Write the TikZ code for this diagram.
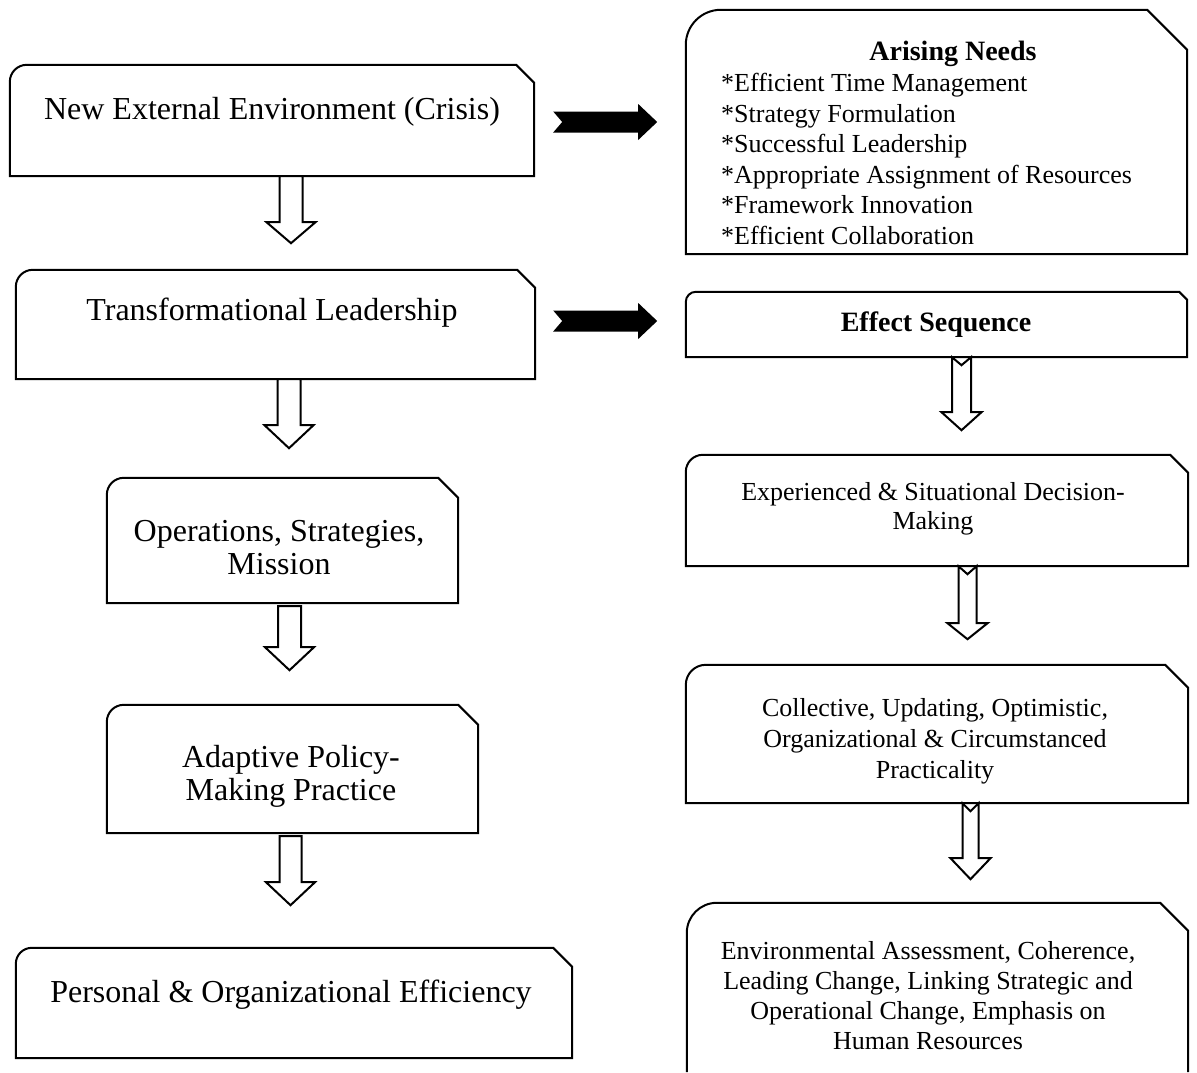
\documentclass[tikz,border=0pt]{standalone}
\usepackage{fontspec}
\setmainfont{Liberation Serif}
\newcommand\boxoutline[3]{%
  \draw[boxline] (#1.south west) -- ([yshift=-#2pt]#1.north west)
    .. controls ([yshift=-0.448*#2pt]#1.north west) and ([xshift=0.448*#2pt]#1.north west) .. ([xshift=#2pt]#1.north west)
    -- ([xshift=-#3pt]#1.north east) -- ([yshift=-#3pt]#1.north east) -- (#1.south east) -- cycle;}
\newcommand\openoutline[3]{%
  \draw[boxline] (#1.south west) -- ([yshift=-#2pt]#1.north west)
    .. controls ([yshift=-0.448*#2pt]#1.north west) and ([xshift=0.448*#2pt]#1.north west) .. ([xshift=#2pt]#1.north west)
    -- ([xshift=-#3pt]#1.north east) -- ([yshift=-#3pt]#1.north east) -- (#1.south east);}
% #1 start, #2 shaft length, #3 head length, #4 shaft half width, #5 head half width
\newcommand\hollowdown[5]{%
  \draw[arrline] (#1) ++(-#4,0) -- ++(0,#2) -- ++(#4-#5,0) -- ++(#5,#3) -- ++(#5,-#3)
    -- ++(#4-#5,0) -- ++(0,-#2) -- cycle;}
% #1 start, #2 shaft length, #3 head length, #4 shaft half, #5 head half, #6 notch
\newcommand\notchdown[6]{%
  \draw[arrline] (#1) ++(-#4,0) -- ++(0,#2) -- ++(#4-#5,0) -- ++(#5,#3) -- ++(#5,-#3)
    -- ++(#4-#5,0) -- ++(0,-#2) -- ++(-#4,#6) -- cycle;}
% #1 tail centre, #2 shaft length, #3 head length, #4 shaft half, #5 head half, #6 notch
\newcommand\blackright[6]{%
  \fill[black] (#1) ++(0,-#4) -- ++(#2,0) -- ++(0,#4-#5) -- ++(#3,#5) -- ++(-#3,#5)
    -- ++(0,#4-#5) -- ++(-#2,0) -- ++(#6,-#4) -- cycle;}
\begin{document}
\begin{tikzpicture}[x=1pt,y=-1pt,
  area/.style={draw=none,inner sep=0pt},
  boxline/.style={draw=black,line width=2pt,line join=miter,fill=white},
  arrline/.style={draw=black,line width=2pt,line join=miter,fill=white},
  lt/.style={inner sep=0pt,align=center,font=\fontsize{32}{33}\selectfont},
  rt/.style={inner sep=0pt,align=center,font=\fontsize{26}{30}\selectfont},
  hd/.style={inner sep=0pt,align=center,font=\fontsize{28}{30}\selectfont\bfseries}]
\useasboundingbox[fill=white] (0,0) rectangle (1197,1072);

% box areas
\node[area,minimum width=524pt,minimum height=111pt] (n1) at (272,120.5) {};
\node[area,minimum width=519pt,minimum height=109pt] (n2) at (275.5,324.5) {};
\node[area,minimum width=351pt,minimum height=125pt] (n3) at (282.5,540.5) {};
\node[area,minimum width=371pt,minimum height=128pt] (n4) at (292.5,769) {};
\node[area,minimum width=556pt,minimum height=110pt] (n5) at (294,1003) {};
\node[area,minimum width=501pt,minimum height=244pt] (r1) at (936.5,132) {};
\node[area,minimum width=501pt,minimum height=65pt] (r2) at (936.5,324.5) {};
\node[area,minimum width=502pt,minimum height=111pt] (r3) at (937,510.5) {};
\node[area,minimum width=502pt,minimum height=138pt] (r4) at (937,734) {};
\node[area,minimum width=501pt,minimum height=169pt] (r5) at (937.5,987.5) {};

\boxoutline{n1}{17}{18}
\boxoutline{n2}{17}{18}
\boxoutline{n3}{17}{20}
\boxoutline{n4}{17}{20}
\boxoutline{n5}{16}{19}
\boxoutline{r1}{35}{40}
\boxoutline{r2}{10}{8}
\boxoutline{r3}{17}{18}
\boxoutline{r4}{20}{23}
\openoutline{r5}{30}{28}

% texts
\node[lt] (t1) at (272,112) {New External Environment (Crisis)};
\node[lt] (t2) at (272,313) {Transformational Leadership};
\node[lt] (t3) at (279,548) {Operations, Strategies,\\Mission};
\node[lt] (t4) at (291,776) {Adaptive Policy-\\Making Practice};
\node[lt] (t5) at (291,995) {Personal \& Organizational Efficiency};
\node[hd] (h1) at (953,54) {Arising Needs};
\node[rt,align=left,anchor=west,font=\fontsize{26}{30.5}\selectfont] (l1) at (721,159) {*Efficient Time Management\\*Strategy Formulation\\*Successful Leadership\\*Appropriate Assignment of Resources\\*Framework Innovation\\*Efficient Collaboration};
\node[hd] (h2) at (936,325) {Effect Sequence};
\node[rt,font=\fontsize{26}{29}\selectfont] (t6) at (933,509) {Experienced \& Situational Decision-\\Making};
\node[rt,font=\fontsize{26}{31}\selectfont] (t7) at (935,741) {Collective, Updating, Optimistic,\\Organizational \& Circumstanced\\Practicality};
\node[rt] (t8) at (928,996) {Environmental Assessment, Coherence,\\Leading Change, Linking Strategic and\\Operational Change, Emphasis on\\Human Resources};

% connector anchors
\coordinate (a1) at ([xshift=19pt]n1.south);
\coordinate (a2) at ([xshift=13.5pt]n2.south);
\coordinate (a3) at ([xshift=7pt,yshift=-3pt]n3.south);
\coordinate (a4) at ([xshift=-2pt,yshift=-3pt]n4.south);
\coordinate (ra1) at ([xshift=25pt]r2.south);
\coordinate (ra3) at ([xshift=30.5pt]r3.south);
\coordinate (ra4) at ([xshift=33.5pt]r4.south);
\coordinate (b1) at ([xshift=19pt,yshift=-1.5pt]n1.east);
\coordinate (b2) at ([xshift=18pt,yshift=3.5pt]n2.east);

\hollowdown{a1}{46}{21}{11.5}{24.5}
\hollowdown{a2}{46}{23}{11.5}{24.5}
\hollowdown{a3}{41}{23}{11.5}{24.5}
\hollowdown{a4}{46}{23}{11}{24.5}
\notchdown{ra1}{55}{18}{9.5}{20}{8}
\notchdown{ra3}{57}{16}{9}{20}{8}
\notchdown{ra4}{55}{21}{8}{20}{8}
\blackright{b1}{85}{19}{10.5}{18}{9}
\blackright{b2}{85}{19}{10.5}{18}{9}
\end{tikzpicture}
\end{document}
